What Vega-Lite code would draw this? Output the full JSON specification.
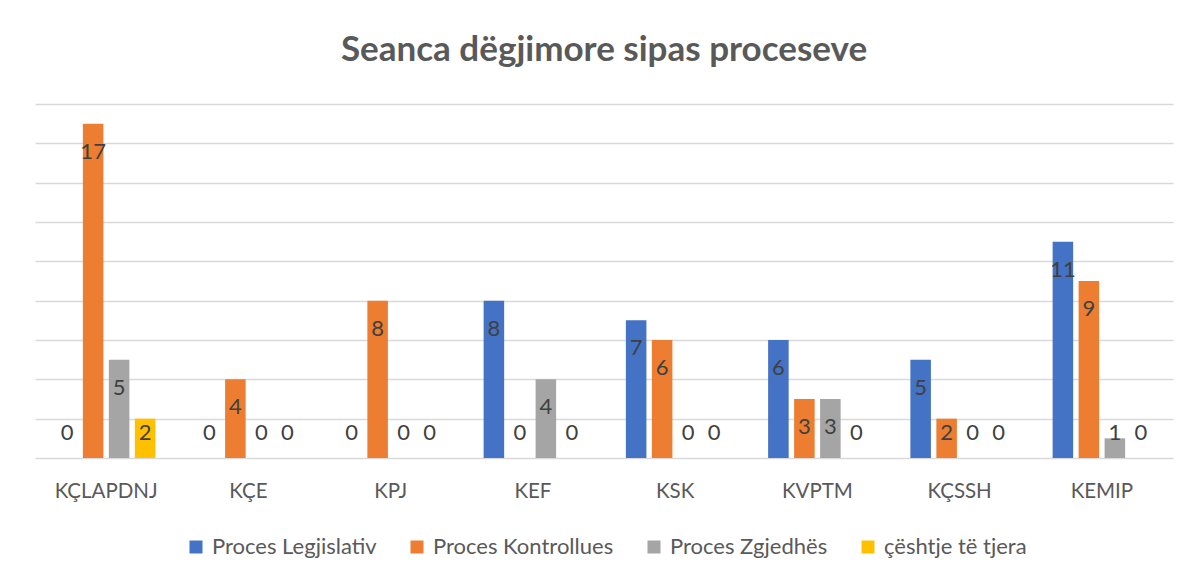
{
  "$schema": "https://vega.github.io/schema/vega-lite/v6.json",
  "width": 1138,
  "height": 354,
  "autosize": {"type": "none"},
  "padding": {"left": 35, "top": 104, "right": 19, "bottom": 121},
  "background": "white",
  "config": {"view": {"stroke": null}},
  "title": {
    "text": "Seanca dëgjimore sipas proceseve",
    "font": "Lato",
    "fontSize": 35,
    "fontWeight": "bold",
    "color": "#595959",
    "anchor": "middle",
    "offset": 36
  },
  "data": {
    "values": [
      {"komisioni": "KÇLAPDNJ", "procesi": "Proces Legjislativ", "seanca": 0},
      {"komisioni": "KÇLAPDNJ", "procesi": "Proces Kontrollues", "seanca": 17},
      {"komisioni": "KÇLAPDNJ", "procesi": "Proces Zgjedhës", "seanca": 5},
      {"komisioni": "KÇLAPDNJ", "procesi": "çështje të tjera", "seanca": 2},
      {"komisioni": "KÇE", "procesi": "Proces Legjislativ", "seanca": 0},
      {"komisioni": "KÇE", "procesi": "Proces Kontrollues", "seanca": 4},
      {"komisioni": "KÇE", "procesi": "Proces Zgjedhës", "seanca": 0},
      {"komisioni": "KÇE", "procesi": "çështje të tjera", "seanca": 0},
      {"komisioni": "KPJ", "procesi": "Proces Legjislativ", "seanca": 0},
      {"komisioni": "KPJ", "procesi": "Proces Kontrollues", "seanca": 8},
      {"komisioni": "KPJ", "procesi": "Proces Zgjedhës", "seanca": 0},
      {"komisioni": "KPJ", "procesi": "çështje të tjera", "seanca": 0},
      {"komisioni": "KEF", "procesi": "Proces Legjislativ", "seanca": 8},
      {"komisioni": "KEF", "procesi": "Proces Kontrollues", "seanca": 0},
      {"komisioni": "KEF", "procesi": "Proces Zgjedhës", "seanca": 4},
      {"komisioni": "KEF", "procesi": "çështje të tjera", "seanca": 0},
      {"komisioni": "KSK", "procesi": "Proces Legjislativ", "seanca": 7},
      {"komisioni": "KSK", "procesi": "Proces Kontrollues", "seanca": 6},
      {"komisioni": "KSK", "procesi": "Proces Zgjedhës", "seanca": 0},
      {"komisioni": "KSK", "procesi": "çështje të tjera", "seanca": 0},
      {"komisioni": "KVPTM", "procesi": "Proces Legjislativ", "seanca": 6},
      {"komisioni": "KVPTM", "procesi": "Proces Kontrollues", "seanca": 3},
      {"komisioni": "KVPTM", "procesi": "Proces Zgjedhës", "seanca": 3},
      {"komisioni": "KVPTM", "procesi": "çështje të tjera", "seanca": 0},
      {"komisioni": "KÇSSH", "procesi": "Proces Legjislativ", "seanca": 5},
      {"komisioni": "KÇSSH", "procesi": "Proces Kontrollues", "seanca": 2},
      {"komisioni": "KÇSSH", "procesi": "Proces Zgjedhës", "seanca": 0},
      {"komisioni": "KÇSSH", "procesi": "çështje të tjera", "seanca": 0},
      {"komisioni": "KEMIP", "procesi": "Proces Legjislativ", "seanca": 11},
      {"komisioni": "KEMIP", "procesi": "Proces Kontrollues", "seanca": 9},
      {"komisioni": "KEMIP", "procesi": "Proces Zgjedhës", "seanca": 1},
      {"komisioni": "KEMIP", "procesi": "çështje të tjera", "seanca": 0}
    ]
  },
  "encoding": {
    "x": {
      "field": "komisioni",
      "type": "nominal",
      "sort": ["KÇLAPDNJ", "KÇE", "KPJ", "KEF", "KSK", "KVPTM", "KÇSSH", "KEMIP"],
      "scale": {"paddingInner": 0.3076, "paddingOuter": 0.1538},
      "axis": {
        "title": null,
        "domain": false,
        "ticks": false,
        "labelAngle": 0,
        "labelFont": "Lato",
        "labelFontSize": 20.5,
        "labelColor": "#595959",
        "labelPadding": 23
      }
    },
    "xOffset": {
      "field": "procesi",
      "type": "nominal",
      "sort": ["Proces Legjislativ", "Proces Kontrollues", "Proces Zgjedhës", "çështje të tjera"],
      "scale": {"paddingInner": 0.21, "paddingOuter": 0}
    },
    "y": {
      "field": "seanca",
      "type": "quantitative",
      "scale": {"domain": [0, 18], "nice": false},
      "axis": {
        "title": null,
        "labels": false,
        "ticks": false,
        "domain": false,
        "grid": true,
        "gridColor": "#D9D9D9",
        "gridWidth": 1.5,
        "values": [0, 2, 4, 6, 8, 10, 12, 14, 16, 18]
      }
    }
  },
  "layer": [
    {
      "mark": {"type": "bar"},
      "encoding": {
        "color": {
          "field": "procesi",
          "type": "nominal",
          "sort": ["Proces Legjislativ", "Proces Kontrollues", "Proces Zgjedhës", "çështje të tjera"],
          "scale": {
            "domain": ["Proces Legjislativ", "Proces Kontrollues", "Proces Zgjedhës", "çështje të tjera"],
            "range": ["#4472C4", "#ED7D31", "#A5A5A5", "#FFC000"]
          },
          "legend": {
            "title": null,
            "orient": "none",
            "direction": "horizontal",
            "legendX": 150,
            "legendY": 432,
            "symbolType": "square",
            "symbolSize": 169,
            "symbolStrokeWidth": 0,
            "labelFont": "Lato",
            "labelFontSize": 22,
            "labelColor": "#595959",
            "labelOffset": 5,
            "columnPadding": 29,
            "labelLimit": 400
          }
        }
      }
    },
    {
      "transform": [{"filter": "datum.seanca >= 3"}],
      "mark": {"type": "text", "baseline": "middle", "dy": 28, "font": "Lato", "fontSize": 22, "color": "#404040"},
      "encoding": {"text": {"field": "seanca", "type": "quantitative"}}
    },
    {
      "transform": [{"filter": "datum.seanca < 3"}],
      "mark": {"type": "text", "baseline": "middle", "dy": -25, "font": "Lato", "fontSize": 22, "color": "#404040"},
      "encoding": {
        "y": {"datum": 0},
        "text": {"field": "seanca", "type": "quantitative"}
      }
    }
  ]
}
